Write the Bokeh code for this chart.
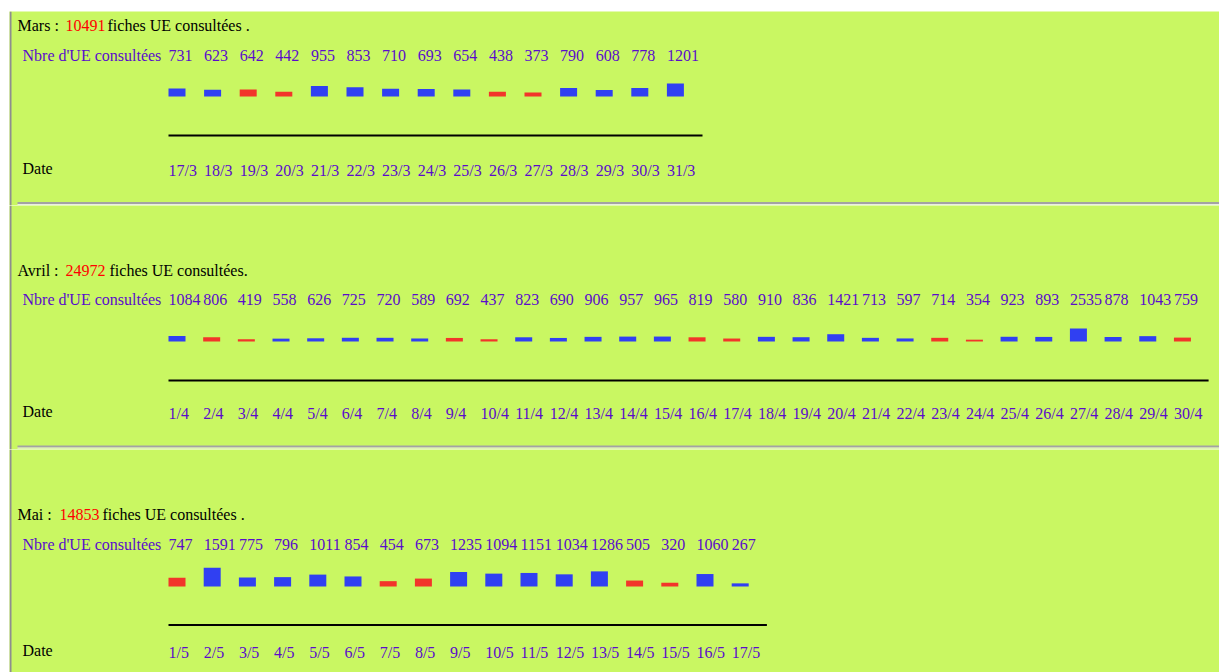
import datetime
from bokeh.plotting import figure
from bokeh.models import Range1d, ColumnDataSource
from bokeh.layouts import column
from bokeh.core.properties import value
from bokeh.embed import file_html
from bokeh.resources import INLINE

# ---------------- data ----------------
YEAR = 2005

mars_month = 3
mars_dates = ["17/3", "18/3", "19/3", "20/3", "21/3", "22/3", "23/3", "24/3",
              "25/3", "26/3", "27/3", "28/3", "29/3", "30/3", "31/3"]
mars_values = [731, 623, 642, 442, 955, 853, 710, 693, 654, 438, 373, 790, 608, 778, 1201]

avril_month = 4
avril_dates = ["1/4", "2/4", "3/4", "4/4", "5/4", "6/4", "7/4", "8/4", "9/4", "10/4",
               "11/4", "12/4", "13/4", "14/4", "15/4", "16/4", "17/4", "18/4", "19/4", "20/4",
               "21/4", "22/4", "23/4", "24/4", "25/4", "26/4", "27/4", "28/4", "29/4", "30/4"]
avril_values = [1084, 806, 419, 558, 626, 725, 720, 589, 692, 437,
                823, 690, 906, 957, 965, 819, 580, 910, 836, 1421,
                713, 597, 714, 354, 923, 893, 2535, 878, 1043, 759]

mai_month = 5
mai_dates = ["1/5", "2/5", "3/5", "4/5", "5/5", "6/5", "7/5", "8/5", "9/5",
             "10/5", "11/5", "12/5", "13/5", "14/5", "15/5", "16/5", "17/5"]
mai_values = [747, 1591, 775, 796, 1011, 854, 454, 673, 1235, 1094,
              1151, 1034, 1286, 505, 320, 1060, 267]

row_label = "Nbre d'UE consultées"
date_label = "Date"

# ---------------- style ----------------
GREEN = "#C9F762"
BLUE = "#3040F2"
RED = "#F2352A"
PURPLE = "#5A0CCB"
FONT = value("Liberation Serif")
FS = "16px"
W = 1219
LEFT = 9          # white strip left of the page border
BAR_PX = 17
CELL_LEFT = 168   # page x of first column


def panel(name, month, dates, values, suffix, lay):
    top, bottom, mbt = lay["top"], lay["bottom"], lay["mbt"]
    sp, k = lay["sp"], lay["k"]
    n = len(values)
    p = figure(width=W, height=bottom - top, output_backend="svg", toolbar_location=None,
               x_range=Range1d(LEFT, W), y_range=Range1d(bottom, top + mbt),
               min_border_left=LEFT, min_border_right=0, min_border_top=mbt, min_border_bottom=0,
               x_axis_location=None, y_axis_location=None,
               background_fill_color=GREEN, border_fill_color="white",
               outline_line_color=None)
    p.xgrid.visible = False
    p.ygrid.visible = False
    p.extra_x_ranges = {"idx": Range1d((LEFT - CELL_LEFT) / sp, (W - CELL_LEFT) / sp)}
    base = lay["base_y"]
    p.extra_y_ranges = {"val": Range1d(-(bottom - base) * k, (base - (top + mbt)) * k)}

    idx = list(range(n))
    weekend = [datetime.date(YEAR, month, int(d.split("/")[0])).weekday() >= 5 for d in dates]
    src = ColumnDataSource(dict(
        left=idx,
        right=[i + BAR_PX / sp for i in idx],
        bottom=[0] * n,
        top=values,
        color=[RED if w else BLUE for w in weekend],
        label=[str(v) for v in values],
        date=dates,
    ))
    p.quad(left="left", right="right", bottom="bottom", top="top", source=src,
           fill_color="color", line_color=None, x_range_name="idx", y_range_name="val")

    txt = dict(text_font=FONT, text_font_size=FS, text_baseline="alphabetic", text_align="left")
    p.text(x="left", y=lay["value_y"], text="label", source=src, text_color=PURPLE,
           x_range_name="idx", **txt)
    p.text(x="left", y=lay["date_y"], text="date", source=src, text_color=PURPLE,
           x_range_name="idx", **txt)
    p.segment(x0=0, x1=n, y0=lay["line_y"], y1=lay["line_y"], line_color="black",
              line_width=2, x_range_name="idx")

    p.text(x=[22], y=[lay["value_y"]], text=[row_label], text_color=PURPLE, **txt)
    p.text(x=[22], y=[lay["date_lbl_y"]], text=[date_label], text_color="black", **txt)

    # title
    p.text(x=[17], y=[lay["title_y"]], text=[name + " :"], text_color="black", **txt)
    p.text(x=[lay["num_x"]], y=[lay["title_y"]], text=[str(sum(values))], text_color="#FF0000", **txt)
    p.text(x=[lay["suf_x"]], y=[lay["title_y"]], text=[suffix], text_color="black", **txt)

    # left border + separator
    p.segment(x0=10, x1=10, y0=top + mbt, y1=bottom, line_color="#8E8E8E", line_width=2)
    if lay.get("sep_y"):
        s = lay["sep_y"]
        p.segment(x0=17, x1=W, y0=s, y1=s, line_color="#A3A3A3", line_width=2)
        p.segment(x0=17, x1=W, y0=s + 1.6, y1=s + 1.6, line_color="#EEEEEE", line_width=1)
    return p


mars_lay = dict(top=0, bottom=205, mbt=11, sp=35.6, k=92, title_y=24.5, num_x=65, suf_x=107,
                value_y=55, base_y=96, line_y=135, date_y=169.5, date_lbl_y=167.5, sep_y=202.5)
avril_lay = dict(top=205, bottom=449, mbt=0, sp=34.67, k=195, title_y=269.5, num_x=65, suf_x=109,
                 value_y=299, base_y=341, line_y=380, date_y=413, date_lbl_y=411, sep_y=446)
mai_lay = dict(top=449, bottom=672, mbt=0, sp=35.2, k=85, title_y=514, num_x=59, suf_x=102,
               value_y=543.5, base_y=586, line_y=624.5, date_y=651.5, date_lbl_y=650, sep_y=None)

p1 = panel("Mars", mars_month, mars_dates, mars_values, "fiches UE consultées .", mars_lay)
p2 = panel("Avril", avril_month, avril_dates, avril_values, "fiches UE consultées.", avril_lay)
p3 = panel("Mai", mai_month, mai_dates, mai_values, "fiches UE consultées .", mai_lay)

layout = column(p1, p2, p3, spacing=0)
open("out.html", "w").write(file_html(layout, INLINE))
